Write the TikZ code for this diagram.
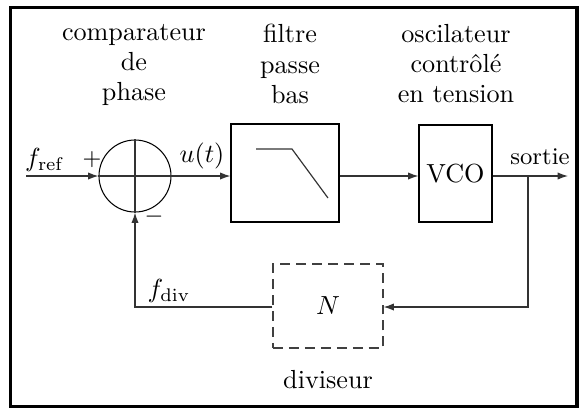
\documentclass[tikz,border=0pt]{standalone}
\usetikzlibrary{arrows.meta}
\begin{document}
\begin{tikzpicture}[x=0.3824pt,y=-0.3824pt,
  line width=0.4pt,
  wire/.style={draw=black!80, line width=0.45pt},
  arr/.style={wire,-{Latex[length=4pt,width=2.8pt]}},
  blockbox/.style={draw, line width=0.4pt, inner sep=0pt},
  lbl/.style={inner sep=0pt, font=\fontsize{10}{11.5}\selectfont, align=center, anchor=north}]
\useasboundingbox (0,0) rectangle (579,408);
\draw[line width=1.3pt] (10.5,7.5) rectangle (577,406.5);
% top labels
\node[lbl] (lcomp) at (134,24) {comparateur\\de\\phase};
\node[lbl] (lfilt) at (290,24) {filtre\\passe\\bas};
\node[lbl] (lvco) at (456,24) {oscilateur\\contr\^ol\'e\\en tension};
% comparator
\node[draw, circle, minimum size=72*0.3824pt, inner sep=0pt] (cmp) at (135,176) {};
\draw[wire] (cmp.north) -- (cmp.south);
\draw[wire] (cmp.west) -- (cmp.east);
\coordinate (in) at (26,176);
\draw[arr] (in) -- (cmp.west);
\node[inner sep=0pt] (fref) at (45,160) {$f_{\mathrm{ref}}$};
\node[inner sep=0pt, font=\small] (plus) at (92,160) {$+$};
\node[inner sep=0pt, font=\small] (minus) at (154,217) {$-$};
% filter
\node[blockbox, minimum width=108*0.3824pt, minimum height=98*0.3824pt] (filt) at (285,173) {};
\draw[wire] (256,149) coordinate (fa) -- (292,149) coordinate (fb) -- (328,198) coordinate (fc);
\draw[arr] (cmp.east) -- (filt.west |- cmp.east);
\node[inner sep=0pt] (ut) at (202,156) {$u(t)$};
% VCO
\node[blockbox, minimum width=73*0.3824pt, minimum height=97*0.3824pt] (vco) at (455.5,173.5) {VCO};
\draw[arr] (filt.east |- cmp.east) -- (vco.west |- cmp.east);
\coordinate (out) at (568,176);
\coordinate (br) at (528,176);
\draw[arr] (vco.east |- cmp.east) -- (out);
\node[inner sep=0pt, font=\fontsize{9.2}{10}\selectfont] (sortie) at (540,157) {sortie};
% divider
\node[draw=black!75, dash pattern=on 3.8pt off 2.3pt, minimum width=110*0.3824pt, minimum height=84*0.3824pt, inner sep=0pt] (div) at (328,306) {$N$};
\coordinate (brd) at (528,307);
\draw[arr] (br) -- (brd) -- (div.east |- brd);
\coordinate (fbk) at (135,307);
\draw[arr] (div.west |- fbk) -- (fbk) -- (cmp.south);
\node[inner sep=0pt] (fdiv) at (169,291) {$f_{\mathrm{div}}$};
\node[inner sep=0pt] (ldiv) at (328,380) {diviseur};
\end{tikzpicture}
\end{document}
